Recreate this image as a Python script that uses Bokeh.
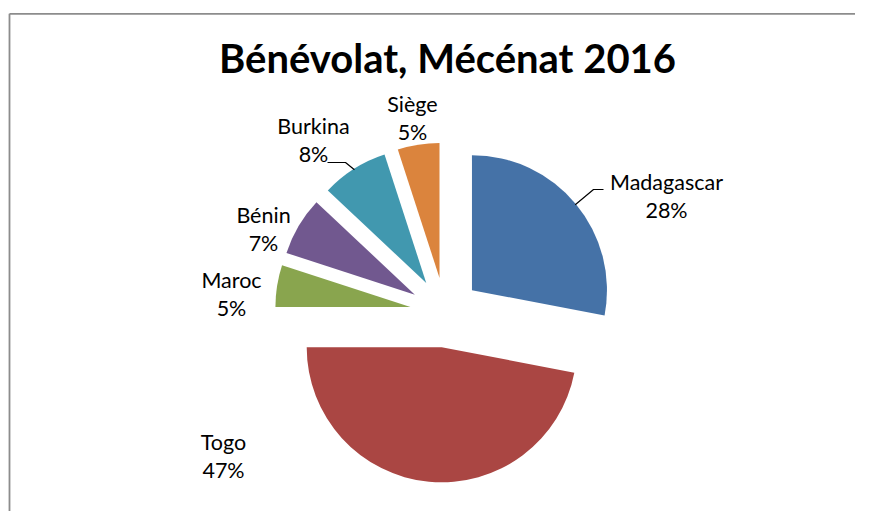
import numpy as np
from bokeh.plotting import figure
from bokeh.models import Range1d
from bokeh.embed import file_html
from bokeh.resources import INLINE
from bokeh.core.properties import value

# ---------------- data ----------------
title_text = "Bénévolat, Mécénat 2016"
categories = ["Madagascar", "Togo", "Maroc", "Bénin", "Burkina", "Siège"]
shares = [28, 47, 5, 7, 8, 5]
colors = ["#4572A7", "#AA4643", "#89A54E", "#71588F", "#4198AF", "#DB843D"]

# ---------------- layout (screenshot pixel coordinates) ----------------
W, H = 855, 511


def X(px):
    return px


def Y(py):
    return H - py


CX, CY = 444.5, 312.0   # pie centre
R = 135.0               # radius
EXPLODE = 35.0          # explosion distance
LINE_GAP = 28.5         # between name and percentage baselines
FONT = "Lato"
LABEL_FS = 21.5
TITLE_FS = 40
BASE_CORR = 0.36        # baseline correction (fraction of font size)

label_xy = {
    "Madagascar": (666, 189),
    "Togo": (223, 449),
    "Maroc": (231, 287),
    "Bénin": (263, 222),
    "Burkina": (313, 133),
    "Siège": (412, 111),
}
# leader line elbows / ends
leader_pts = {
    "Madagascar": [(593, 189), (603, 189)],
    "Burkina": [(345, 162), (327, 162)],
}

p = figure(width=W, height=H, x_range=Range1d(0, W), y_range=Range1d(0, H),
           x_axis_type=None, y_axis_type=None, toolbar_location=None,
           output_backend="svg", min_border=0)
p.grid.visible = False
p.outline_line_color = None
p.background_fill_color = "white"
p.border_fill_color = "white"

# frame
p.line([X(9), X(9)], [0, Y(13.3)], line_color="#8c8c8c", line_width=1.8)
p.line([X(9), W], [Y(13.3), Y(13.3)], line_color="#8c8c8c", line_width=1.8)

vals = np.array(shares, dtype=float)
frac = vals / vals.sum()
cum_end = np.cumsum(frac)
cum_start = cum_end - frac
th_s = 2 * np.pi * cum_start     # clockwise from top
th_e = 2 * np.pi * cum_end
th_m = (th_s + th_e) / 2

cx_d = X(CX) + EXPLODE * np.sin(th_m)
cy_d = Y(CY) + EXPLODE * np.cos(th_m)

p.wedge(x=cx_d, y=cy_d, radius=R,
        start_angle=np.pi / 2 - th_e, end_angle=np.pi / 2 - th_s,
        direction="anticlock", fill_color=colors, line_color=None)

# leader lines
for i, cat in enumerate(categories):
    if cat in leader_pts:
        sx = cx_d[i] + (R - 1) * np.sin(th_m[i])
        sy = cy_d[i] + (R - 1) * np.cos(th_m[i])
        xs = [sx] + [X(a) for a, b in leader_pts[cat]]
        ys = [sy] + [Y(b) for a, b in leader_pts[cat]]
        p.line(xs, ys, line_color="black", line_width=1.2)

# labels
corr = BASE_CORR * LABEL_FS
lx = [X(label_xy[c][0]) for c in categories]
ly = [Y(label_xy[c][1] - corr) for c in categories]
pct = [f"{int(round(f * 100))}%" for f in frac]
p.text(x=lx, y=ly, text=categories, text_font=value(FONT),
       text_font_size=f"{LABEL_FS}px", text_align="center",
       text_baseline="alphabetic", text_color="black")
p.text(x=lx, y=[v - LINE_GAP for v in ly], text=pct, text_font=value(FONT),
       text_font_size=f"{LABEL_FS}px", text_align="center",
       text_baseline="alphabetic", text_color="black")

# title
p.text(x=[X(447)], y=[Y(72 - BASE_CORR * TITLE_FS)], text=[title_text],
       text_font=value(FONT), text_font_size=f"{TITLE_FS}px",
       text_font_style="bold", text_align="center",
       text_baseline="alphabetic", text_color="black")

open("out.html", "w").write(file_html(p, INLINE))
